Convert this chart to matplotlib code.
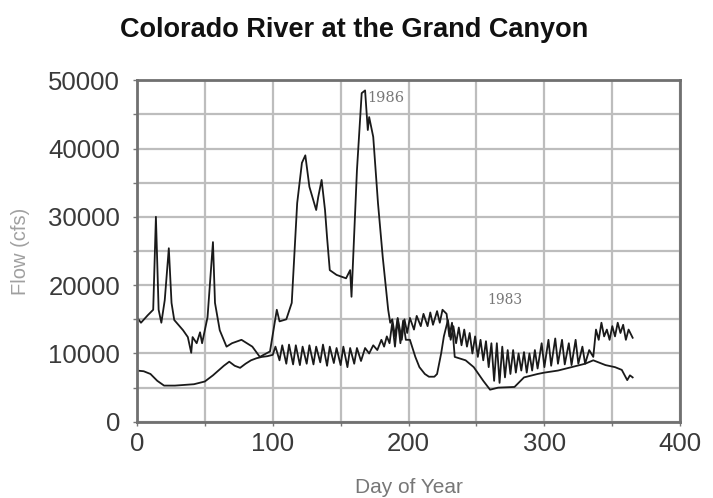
import numpy as np
import matplotlib
matplotlib.use('Agg')
import matplotlib.pyplot as plt

# flood year (labelled 1986)
days_a = [0, 3, 8, 12, 14, 16, 18, 20.5, 23.5, 25.5, 27.5, 34, 37.5, 40, 41, 44, 46.5, 48, 50, 52,
          56, 57.5, 61, 66, 70, 77, 85, 90.5, 98, 103, 105, 110, 114, 118, 121.5, 124, 127, 132,
          133.5, 136, 138.5, 140, 142, 147, 154, 157, 158, 162, 165.5, 168, 170, 171, 174, 177.5,
          181, 185, 186.5, 188, 190, 192, 195, 197, 199, 201, 204, 206, 209, 211, 214, 216, 218,
          221, 223, 225, 228, 230, 232, 234, 242, 248, 255, 260, 266, 278, 285, 295, 300, 310,
          320, 330, 336, 345, 352, 357, 361, 363, 365]
flow_a = [15300, 14500, 15600, 16400, 30000, 16400, 14500, 17800, 25400, 17400, 14900, 13400, 12400,
          10100, 12400, 11500, 13100, 11500, 13400, 15300, 26300, 17400, 13400, 11000, 11500, 12000,
          11000, 9500, 10300, 16400, 14700, 15000, 17400, 32000, 37900, 39000, 34400, 31000, 32900,
          35400, 31000, 27000, 22200, 21500, 21000, 22200, 18300, 36800, 48100, 48500, 42700, 44600,
          41700, 32000, 24100, 16400, 14500, 15000, 12500, 15200, 12000, 15000, 13000, 15200, 13500,
          15500, 14000, 15800, 14000, 16000, 14200, 16200, 14500, 16400, 15800, 12500, 14500, 9500,
          9000, 8000, 6000, 4700, 5000, 5100, 6500, 7000, 7200, 7500, 8000, 8500, 9000, 8300, 8000,
          7600, 6100, 6800, 6500]

# dam-regulated year (labelled 1983)
days_b = [0, 5, 10, 15, 20, 28, 35, 42, 50, 56, 60, 64, 68, 72, 76, 80, 84, 88, 92, 96, 100,
          102, 105, 107, 110, 112, 115, 117, 120, 122, 125, 127, 130, 132, 135, 137, 140, 142, 145,
          147, 150, 152, 155, 157, 160, 162, 165, 168, 171, 174, 177, 180, 182, 184, 186, 188, 190,
          192, 194, 196, 198, 201, 205, 208, 212, 215, 219, 221, 224, 226, 229, 231, 233, 235, 237,
          239, 241, 243, 245, 247, 249, 251, 253, 255, 257, 259, 261, 263, 265, 267, 269, 271, 273,
          275, 277, 279, 281, 283, 285, 287, 289, 291, 293, 295, 298, 300, 303, 305, 308, 310, 313,
          315, 318, 320, 323, 325, 328, 330, 333, 336, 338, 340, 342, 344, 346, 348, 350, 352, 354,
          356, 358, 360, 362, 365]
flow_b = [7500, 7400, 7000, 6000, 5300, 5300, 5400, 5500, 5900, 6800, 7500, 8200, 8800, 8200, 7900,
          8500, 9000, 9300, 9500, 9600, 9800,
          11000, 9000, 11200, 8500, 11300, 8400, 11200, 8300, 11000, 8500, 11200, 8400, 11000, 8700,
          11300, 8200, 11000, 8600, 10800, 8300, 11000, 8000, 10800, 8500, 10800, 8900, 10800, 10000,
          11200, 10500, 12000, 11000, 12500, 11500, 14500, 11000, 15000, 11500, 14800, 12000, 12000,
          9500, 8000, 7000, 6600, 6600, 7000, 10000, 12500, 14900, 12000, 14000, 11500, 13800, 11200,
          13500, 11000, 13000, 10000, 12500, 9500, 12000, 9000, 11800, 8000, 11500, 6000, 11500, 5700,
          11000, 6500, 10500, 7000, 10500, 7200, 10000, 7500, 10200, 7200, 10000, 7500, 10500, 7800,
          11500, 8000, 12000, 8200, 12200, 8500, 12000, 8400, 11500, 8300, 12000, 8500, 11000, 8500,
          10500, 9500, 13500, 12000, 14500, 12500, 13500, 12000, 14000, 12500, 14500, 13000, 14200,
          12000, 13500, 12300]

plt.rcParams['font.family'] = ['Liberation Sans', 'DejaVu Sans']

fig = plt.figure(figsize=(7.13, 4.98), dpi=100)
ax = fig.add_axes([0.192, 0.153, 0.762, 0.686])

ax.plot(days_a, flow_a, color='#1a1a1a', lw=1.3)
ax.plot(days_b, flow_b, color='#1a1a1a', lw=1.3)

ax.set_xlim(0, 400)
ax.set_ylim(0, 50000)
ax.set_xticks(np.arange(0, 401, 50))
ax.set_xticklabels(['0', '', '100', '', '200', '', '300', '', '400'])
ax.set_yticks(np.arange(0, 50001, 5000))
ax.set_yticklabels(['0', '', '10000', '', '20000', '', '30000', '', '40000', '', '50000'])
ax.grid(True, color='#bdbdbd', lw=1.6)
ax.set_axisbelow(True)
for s in ax.spines.values():
    s.set_color('#707070')
    s.set_linewidth(2)
ax.tick_params(colors='#777777', labelcolor='#3a3a3a', labelsize=18.5, length=3, width=1)
ax.tick_params(axis='y', pad=9)
ax.tick_params(axis='x', pad=4)

ax.text(169.5, 47400, '1986', fontsize=10.5, color='#777777', family='DejaVu Serif', va='center')
ax.text(258, 17800, '1983', fontsize=10, color='#777777', family='DejaVu Serif', va='center')

ax.set_xlabel('Day of Year', fontsize=15, color='#777777')
ax.set_ylabel('Flow (cfs)', fontsize=14.5, color='#a0a0a0')
ax.xaxis.set_label_coords(0.5, -0.165)
ax.yaxis.set_label_coords(-0.197, 0.5)
fig.text(0.497, 0.94, 'Colorado River at the Grand Canyon', ha='center', va='center',
         fontsize=19.5, fontweight='bold', color='#111111')

fig.savefig('out.png', dpi=100)
